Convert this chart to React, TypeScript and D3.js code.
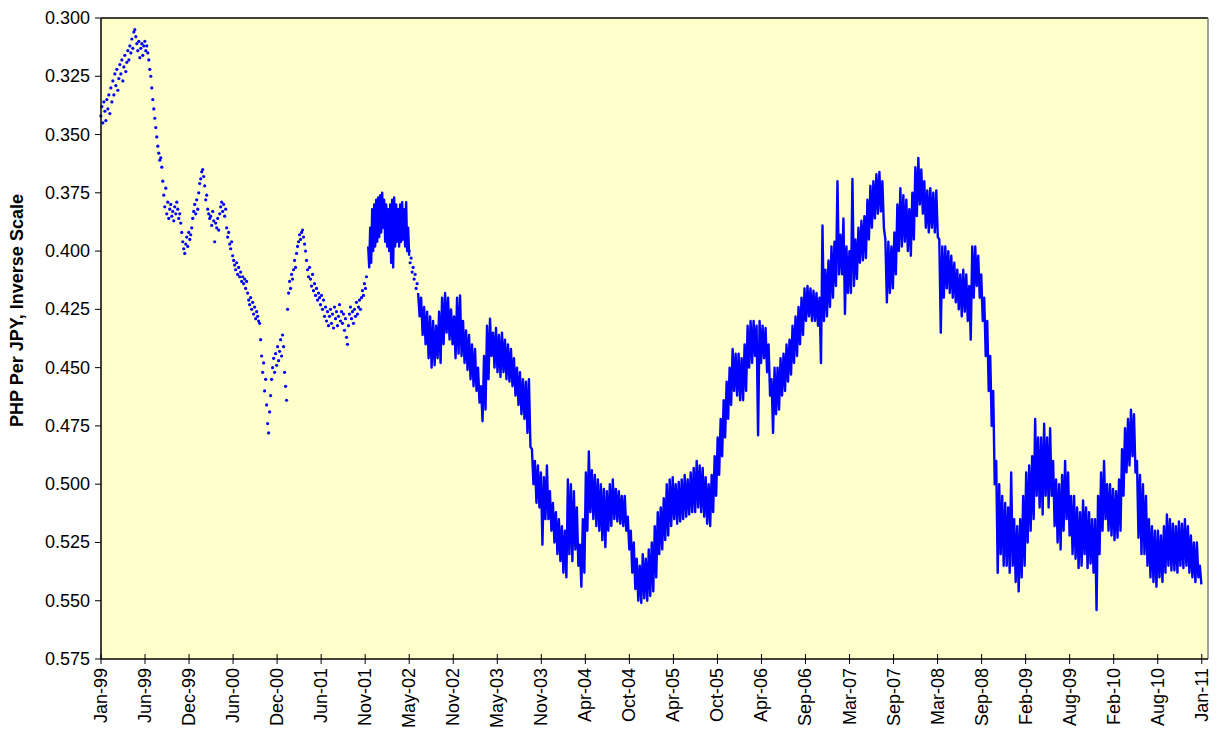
import React from "react";
import * as d3 from "d3";

// y axis ticks (inverse scale)
const yTicks = [0.3, 0.325, 0.35, 0.375, 0.4, 0.425, 0.45, 0.475, 0.5, 0.525, 0.55, 0.575];

const xTickLabels = [
  "Jan-99", "Jun-99", "Dec-99", "Jun-00", "Dec-00", "Jun-01", "Nov-01", "May-02", "Nov-02",
  "May-03", "Nov-03", "Apr-04", "Oct-04", "Apr-05", "Oct-05", "Apr-06", "Sep-06", "Mar-07",
  "Sep-07", "Mar-08", "Sep-08", "Feb-09", "Aug-09", "Feb-10", "Aug-10", "Jan-11",
];
const xTickStart = "1999-01-04T12:00:00Z";
const xTickStepDays = 176.4;
const xAxisSpanDays = 4435;

// sparse early quotes (shown as isolated points), every 4 days
const dotsEarlyStart = "1999-01-04";
const dotsEarlyStep = 4;
const dotsEarly = [
  0.342, 0.338, 0.345, 0.336, 0.340, 0.344, 0.335, 0.339, 0.333, 0.341,
  0.330, 0.336, 0.327, 0.333, 0.324, 0.329, 0.322, 0.331, 0.326, 0.320,
  0.324, 0.318, 0.327, 0.321, 0.316, 0.323, 0.319, 0.314, 0.318, 0.312,
  0.315, 0.309, 0.313, 0.306, 0.305, 0.308, 0.311, 0.314, 0.310, 0.317,
  0.313, 0.311, 0.316, 0.312, 0.310, 0.314, 0.312, 0.315, 0.318, 0.322,
  0.325, 0.330, 0.335, 0.339, 0.343, 0.347, 0.351, 0.355, 0.358, 0.361,
  0.360, 0.364, 0.370, 0.376, 0.381, 0.373, 0.384, 0.379, 0.386, 0.382,
  0.380, 0.385, 0.383, 0.387, 0.381, 0.384, 0.379, 0.382, 0.386, 0.384,
  0.388, 0.392, 0.396, 0.399, 0.401, 0.397, 0.394, 0.398, 0.392, 0.395,
  0.393, 0.390, 0.386, 0.383, 0.380, 0.384, 0.378, 0.382, 0.375, 0.371,
  0.369, 0.366, 0.365, 0.368, 0.372, 0.378, 0.376, 0.382, 0.384, 0.386,
  0.385, 0.389, 0.383, 0.387, 0.396, 0.388, 0.390, 0.386, 0.391, 0.384,
  0.381, 0.379, 0.383, 0.380, 0.385, 0.382, 0.390, 0.394, 0.392, 0.397,
  0.399, 0.396, 0.402, 0.404, 0.406, 0.408, 0.405, 0.410, 0.407, 0.411,
  0.409, 0.413, 0.411, 0.414, 0.412, 0.416, 0.413, 0.418, 0.421, 0.423,
  0.420, 0.425, 0.422, 0.427, 0.424, 0.429, 0.426, 0.428, 0.430, 0.431,
  0.438, 0.445, 0.452, 0.448, 0.460, 0.455, 0.466, 0.474, 0.478, 0.469,
  0.462, 0.455, 0.450, 0.446, 0.452, 0.444, 0.449, 0.441, 0.447, 0.443,
  0.438, 0.445, 0.436, 0.441, 0.452, 0.458, 0.464, 0.425, 0.418, 0.413,
  0.416, 0.410, 0.412, 0.408, 0.404, 0.407, 0.401, 0.398, 0.396, 0.393,
  0.395, 0.392, 0.391, 0.394, 0.397, 0.400, 0.404, 0.408, 0.411, 0.407,
  0.412, 0.415, 0.410, 0.417, 0.414, 0.419, 0.416, 0.421, 0.418, 0.420,
  0.423, 0.419, 0.425, 0.421, 0.428, 0.424, 0.430, 0.426, 0.432, 0.428,
  0.425, 0.431, 0.427, 0.433, 0.424, 0.429, 0.426, 0.432, 0.428, 0.423,
  0.430, 0.426, 0.431, 0.427, 0.434, 0.429, 0.437, 0.440, 0.432, 0.427,
  0.424, 0.429, 0.426, 0.431, 0.425, 0.428, 0.422, 0.427, 0.424, 0.421,
  0.425, 0.420, 0.417, 0.419, 0.414, 0.416, 0.411,
];

// continuous stretch, late 2001 to spring 2002: high / low per 8 days
const lineEarlyStart = "2001-12-10";
const lineEarlyStep = 8;
const lineEarlyHigh = [
  0.398, 0.390, 0.382, 0.380, 0.378, 0.377, 0.376, 0.375, 0.378, 0.380,
  0.382, 0.380, 0.378, 0.377, 0.380, 0.382, 0.380, 0.379, 0.382, 0.379, 0.390,
];
const lineEarlyLow = [
  0.407, 0.405, 0.400, 0.398, 0.396, 0.394, 0.392, 0.390, 0.396, 0.398,
  0.400, 0.405, 0.407, 0.398, 0.396, 0.398, 0.396, 0.395, 0.398, 0.400, 0.402,
];

// sparse quotes, May-Jun 2002, every 4 days
const dotsMidStart = "2002-05-23";
const dotsMidStep = 4;
const dotsMid = [0.400, 0.405, 0.403, 0.409, 0.407, 0.412, 0.410, 0.416, 0.414];

// main daily series: high / low per 12 days
const lineMainStart = "2002-06-28";
const lineMainStep = 12;
const lineMainHigh = [
  0.418, 0.420, 0.424, 0.426, 0.428, 0.430, 0.432, 0.426, 0.420, 0.418,
  0.420, 0.425, 0.428, 0.420, 0.419, 0.430, 0.434, 0.436, 0.440, 0.442,
  0.450, 0.458, 0.445, 0.432, 0.429, 0.435, 0.433, 0.436, 0.435, 0.438,
  0.440, 0.442, 0.446, 0.450, 0.452, 0.455, 0.456, 0.455, 0.485, 0.490,
  0.492, 0.495, 0.497, 0.492, 0.503, 0.508, 0.512, 0.515, 0.518, 0.520,
  0.498, 0.500, 0.503, 0.510, 0.526, 0.515, 0.495, 0.486, 0.494, 0.496,
  0.498, 0.500, 0.502, 0.503, 0.500, 0.498, 0.502, 0.503, 0.505, 0.505,
  0.514, 0.520, 0.525, 0.532, 0.535, 0.530, 0.532, 0.528, 0.525, 0.518,
  0.512, 0.510, 0.506, 0.500, 0.498, 0.497, 0.500, 0.499, 0.498, 0.496,
  0.498, 0.495, 0.493, 0.490, 0.492, 0.493, 0.497, 0.500, 0.496, 0.488,
  0.480, 0.472, 0.464, 0.456, 0.450, 0.442, 0.444, 0.444, 0.446, 0.440,
  0.432, 0.430, 0.430, 0.432, 0.430, 0.432, 0.433, 0.440, 0.455, 0.450,
  0.450, 0.446, 0.444, 0.440, 0.438, 0.432, 0.428, 0.424, 0.420, 0.416,
  0.415, 0.416, 0.417, 0.418, 0.420, 0.389, 0.408, 0.404, 0.398, 0.396,
  0.370, 0.393, 0.386, 0.398, 0.400, 0.369, 0.395, 0.390, 0.387, 0.385,
  0.378, 0.372, 0.370, 0.367, 0.366, 0.370, 0.395, 0.396, 0.398, 0.392,
  0.380, 0.373, 0.376, 0.378, 0.382, 0.375, 0.364, 0.360, 0.365, 0.370,
  0.374, 0.373, 0.375, 0.374, 0.395, 0.398, 0.398, 0.400, 0.402, 0.405,
  0.408, 0.410, 0.408, 0.410, 0.415, 0.398, 0.398, 0.402, 0.410, 0.420,
  0.430, 0.445, 0.460, 0.490, 0.500, 0.505, 0.508, 0.510, 0.495, 0.515,
  0.518, 0.515, 0.505, 0.495, 0.492, 0.488, 0.472, 0.480, 0.480, 0.474,
  0.480, 0.476, 0.490, 0.498, 0.500, 0.496, 0.490, 0.495, 0.505, 0.505,
  0.510, 0.512, 0.507, 0.510, 0.512, 0.515, 0.515, 0.505, 0.495, 0.490,
  0.500, 0.500, 0.502, 0.503, 0.498, 0.485, 0.476, 0.472, 0.468, 0.470,
  0.490, 0.496, 0.500, 0.505, 0.515, 0.518, 0.520, 0.520, 0.522, 0.518,
  0.513, 0.515, 0.517, 0.518, 0.516, 0.517, 0.515, 0.518, 0.522, 0.525,
  0.525, 0.535,
];
const lineMainLow = [
  0.428, 0.436, 0.440, 0.446, 0.450, 0.449, 0.446, 0.448, 0.440, 0.435,
  0.438, 0.440, 0.446, 0.444, 0.445, 0.448, 0.451, 0.455, 0.458, 0.460,
  0.465, 0.473, 0.468, 0.455, 0.445, 0.450, 0.452, 0.454, 0.452, 0.455,
  0.456, 0.458, 0.462, 0.466, 0.470, 0.472, 0.478, 0.484, 0.500, 0.508,
  0.510, 0.526, 0.515, 0.515, 0.520, 0.525, 0.530, 0.533, 0.538, 0.540,
  0.530, 0.533, 0.528, 0.535, 0.544, 0.538, 0.520, 0.512, 0.515, 0.518,
  0.520, 0.524, 0.527, 0.520, 0.518, 0.515, 0.516, 0.517, 0.518, 0.520,
  0.528, 0.538, 0.545, 0.550, 0.551, 0.549, 0.550, 0.548, 0.546, 0.540,
  0.530, 0.528, 0.524, 0.522, 0.518, 0.515, 0.517, 0.516, 0.515, 0.514,
  0.513, 0.512, 0.512, 0.510, 0.512, 0.514, 0.517, 0.518, 0.512, 0.505,
  0.496, 0.488, 0.480, 0.472, 0.466, 0.460, 0.462, 0.464, 0.464, 0.460,
  0.450, 0.448, 0.445, 0.479, 0.448, 0.446, 0.452, 0.462, 0.478, 0.470,
  0.468, 0.462, 0.460, 0.456, 0.453, 0.448, 0.445, 0.440, 0.436, 0.430,
  0.428, 0.430, 0.430, 0.432, 0.448, 0.430, 0.428, 0.424, 0.420, 0.415,
  0.410, 0.410, 0.427, 0.418, 0.418, 0.415, 0.412, 0.405, 0.404, 0.403,
  0.395, 0.390, 0.386, 0.384, 0.383, 0.390, 0.422, 0.418, 0.416, 0.410,
  0.400, 0.398, 0.396, 0.400, 0.402, 0.395, 0.385, 0.380, 0.384, 0.390,
  0.392, 0.390, 0.392, 0.394, 0.435, 0.420, 0.416, 0.418, 0.420, 0.422,
  0.425, 0.428, 0.426, 0.430, 0.438, 0.420, 0.415, 0.420, 0.430, 0.445,
  0.460, 0.475, 0.500, 0.538, 0.530, 0.535, 0.535, 0.538, 0.535, 0.542,
  0.546, 0.540, 0.535, 0.525, 0.520, 0.515, 0.505, 0.510, 0.513, 0.505,
  0.510, 0.505, 0.518, 0.525, 0.528, 0.520, 0.515, 0.522, 0.530, 0.532,
  0.536, 0.535, 0.530, 0.536, 0.534, 0.538, 0.554, 0.530, 0.520, 0.515,
  0.520, 0.522, 0.524, 0.523, 0.520, 0.505, 0.495, 0.492, 0.488, 0.495,
  0.523, 0.530, 0.530, 0.535, 0.540, 0.542, 0.544, 0.540, 0.542, 0.538,
  0.535, 0.537, 0.537, 0.538, 0.535, 0.536, 0.535, 0.538, 0.540, 0.542,
  0.540, 0.543,
];

const WIDTH = 1219;
const HEIGHT = 734;
const plot = { left: 101, top: 18, right: 1208, bottom: 659 };
const LINE_COLOR = "#0000ff";
const FONT = "Arial, 'Liberation Sans', Helvetica, sans-serif";

type Pt = { date: Date; value: number };

const parseDay = d3.utcParse("%Y-%m-%d");

function toSeries(start: string, stepDays: number, values: number[]): Pt[] {
  const t0 = parseDay(start) as Date;
  return values.map((v, i) => ({ date: d3.utcDay.offset(t0, i * stepDays), value: v }));
}

// each period: its high first, then its low half a period later
function toHighLow(start: string, stepDays: number, high: number[], low: number[]): Pt[] {
  const t0 = (parseDay(start) as Date).getTime();
  const out: Pt[] = [];
  high.forEach((h, i) => {
    const t = t0 + i * stepDays * 864e5;
    out.push({ date: new Date(t), value: h });
    out.push({ date: new Date(t + (stepDays / 2) * 864e5), value: low[i] });
  });
  return out;
}

export default function App() {
  const axisStart = new Date(xTickStart);
  const x = d3
    .scaleUtc()
    .domain([axisStart, new Date(axisStart.getTime() + xAxisSpanDays * 864e5)])
    .range([plot.left, plot.right]);
  const y = d3.scaleLinear().domain([0.3, 0.575]).range([plot.top, plot.bottom]);

  const xTickDates = xTickLabels.map(
    (_, i) => new Date(axisStart.getTime() + i * xTickStepDays * 864e5)
  );

  const line = d3
    .line<Pt>()
    .x((d) => x(d.date))
    .y((d) => y(d.value));

  const early = toSeries(dotsEarlyStart, dotsEarlyStep, dotsEarly);
  const mid = toSeries(dotsMidStart, dotsMidStep, dotsMid);
  const lineA = toHighLow(lineEarlyStart, lineEarlyStep, lineEarlyHigh, lineEarlyLow);
  const lineB = toHighLow(lineMainStart, lineMainStep, lineMainHigh, lineMainLow);

  return (
    <svg
      width={WIDTH}
      height={HEIGHT}
      style={{ position: "absolute", left: 0, top: 0, background: "#fff" }}
      fontFamily={FONT}
    >
      <rect
        x={plot.left}
        y={plot.top}
        width={plot.right - plot.left}
        height={plot.bottom - plot.top}
        fill="#ffffcc"
      />
      {/* plot frame */}
      <line x1={plot.left} x2={plot.right} y1={plot.top} y2={plot.top} stroke="#000" strokeWidth={1.5} />
      <line x1={plot.right} x2={plot.right} y1={plot.top} y2={plot.bottom} stroke="#808080" strokeWidth={1.5} />

      {/* data */}
      {[...early, ...mid].map((d, i) => (
        <circle key={i} cx={x(d.date)} cy={y(d.value)} r={1.6} fill={LINE_COLOR} />
      ))}
      <path d={line(lineA) ?? ""} fill="none" stroke={LINE_COLOR} strokeWidth={2.4} strokeLinejoin="round" />
      <path d={line(lineB) ?? ""} fill="none" stroke={LINE_COLOR} strokeWidth={2.4} strokeLinejoin="round" />

      {/* y axis */}
      <line x1={plot.left} x2={plot.left} y1={plot.top} y2={plot.bottom} stroke="#000" strokeWidth={1.5} />
      {yTicks.map((t) => (
        <g key={t} transform={`translate(0,${y(t)})`}>
          <line x1={plot.left - 6} x2={plot.left} stroke="#000" strokeWidth={1} />
          <text x={plot.left - 11} textAnchor="end" dominantBaseline="central" fontSize={18} fill="#000">
            {t.toFixed(3)}
          </text>
        </g>
      ))}
      <text
        transform={`translate(17,${(plot.top + plot.bottom) / 2 - 28}) rotate(-90)`}
        textAnchor="middle"
        dominantBaseline="central"
        fontSize={18}
        fontWeight="bold"
        fill="#000"
      >
        PHP Per JPY, Inverse Scale
      </text>

      {/* x axis */}
      <line x1={plot.left} x2={plot.right} y1={plot.bottom} y2={plot.bottom} stroke="#000" strokeWidth={1.5} />
      {xTickDates.map((d, i) => (
        <g key={i} transform={`translate(${x(d)},0)`}>
          <line y1={plot.bottom - 5} y2={plot.bottom + 5} stroke="#000" strokeWidth={1} />
          <text
            transform={`translate(0,${plot.bottom + 9}) rotate(-90)`}
            textAnchor="end"
            dominantBaseline="central"
            fontSize={18}
            fill="#000"
          >
            {xTickLabels[i]}
          </text>
        </g>
      ))}
    </svg>
  );
}
